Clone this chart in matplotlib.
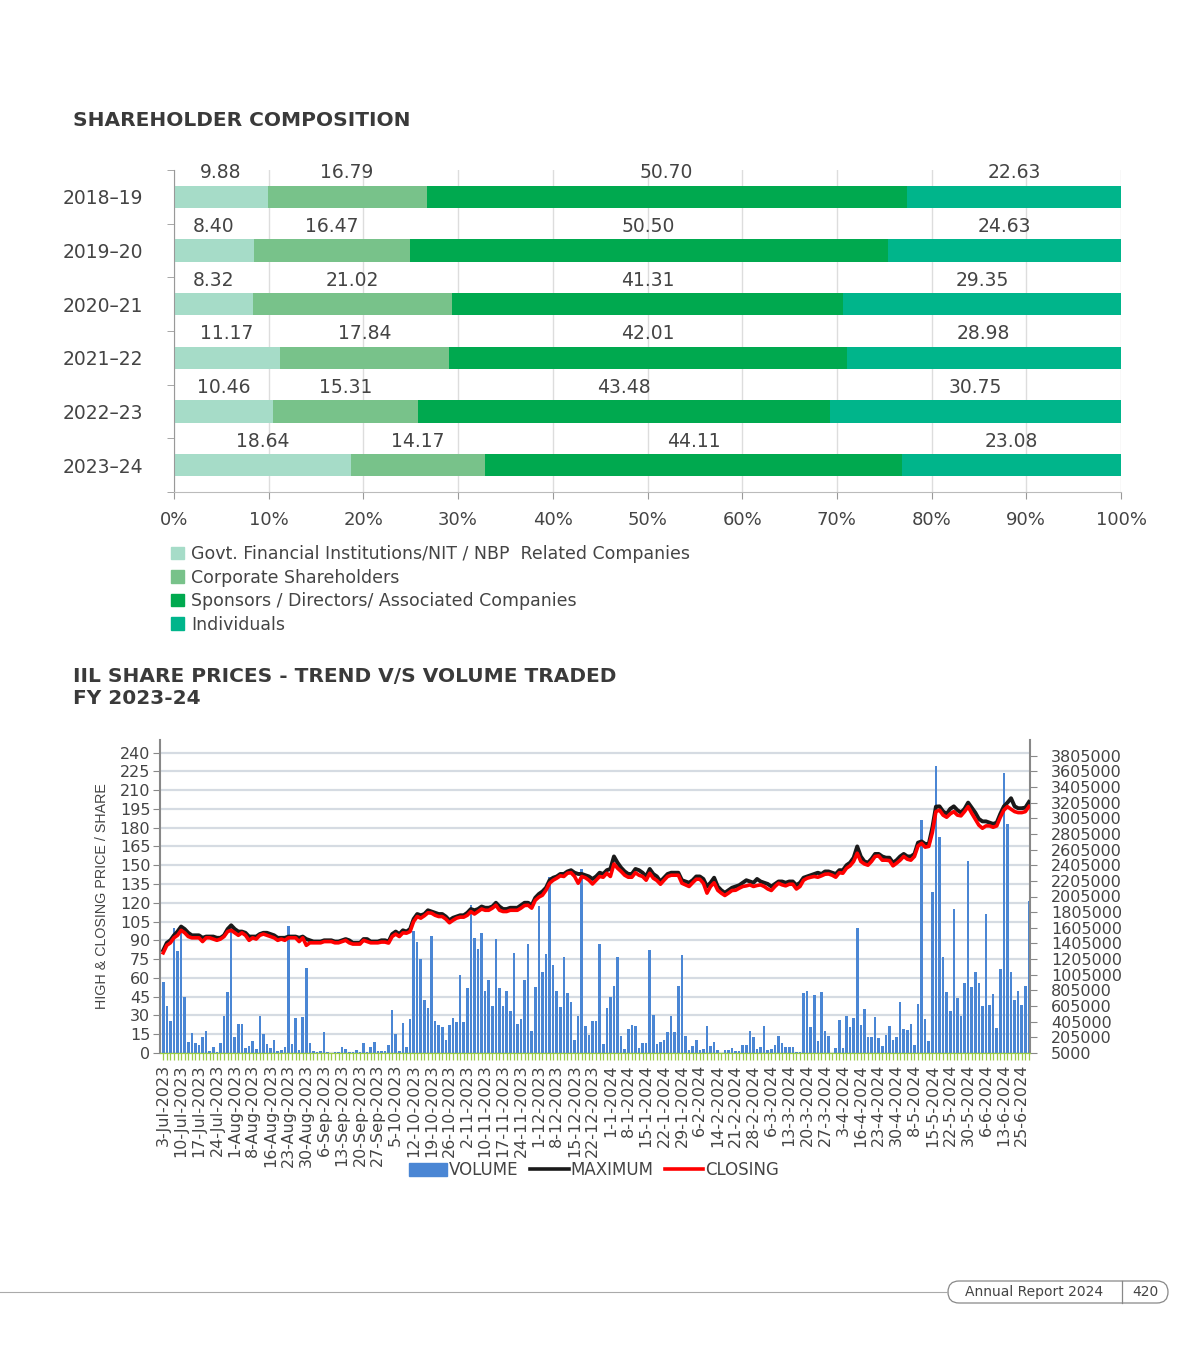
import numpy as np
import matplotlib.pyplot as plt
from matplotlib import font_manager
from matplotlib.patches import FancyBboxPatch, Patch
from matplotlib.lines import Line2D

plt.rcParams['font.family'] = ['DejaVu Sans']

# ---------------- shareholder composition ----------------
years = ["2018–19", "2019–20", "2020–21", "2021–22", "2022–23", "2023–24"]
govt = [9.88, 8.40, 8.32, 11.17, 10.46, 18.64]
corporate = [16.79, 16.47, 21.02, 17.84, 15.31, 14.17]
sponsors = [50.70, 50.50, 41.31, 42.01, 43.48, 44.11]
individuals = [22.63, 24.63, 29.35, 28.98, 30.75, 23.08]
groups = ["Govt. Financial Institutions/NIT / NBP  Related Companies",
          "Corporate Shareholders",
          "Sponsors / Directors/ Associated Companies",
          "Individuals"]
group_colors = ["#a6dcc8", "#78c28a", "#00a94f", "#00b58b"]

# ---------------- share prices FY 2023-24 ----------------
date_labels = ["3-Jul-2023", "10-Jul-2023", "17-Jul-2023", "24-Jul-2023", "1-Aug-2023",
               "8-Aug-2023", "16-Aug-2023", "23-Aug-2023", "30-Aug-2023", "6-Sep-2023",
               "13-Sep-2023", "20-Sep-2023", "27-Sep-2023", "5-10-2023", "12-10-2023",
               "19-10-2023", "26-10-2023", "2-11-2023", "10-11-2023", "17-11-2023",
               "24-11-2023", "1-12-2023", "8-12-2023", "15-12-2023", "22-12-2023",
               "1-1-2024", "8-1-2024", "15-1-2024", "22-1-2024", "29-1-2024",
               "6-2-2024", "14-2-2024", "21-2-2024", "28-2-2024", "6-3-2024",
               "13-3-2024", "20-3-2024", "27-3-2024", "3-4-2024", "16-4-2024",
               "23-4-2024", "30-4-2024", "8-5-2024", "15-5-2024", "22-5-2024",
               "30-5-2024", "6-6-2024", "13-6-2024", "25-6-2024"]

volume = [912000, 608000, 416000, 1600000, 1312000, 1626000, 720000, 144000, 256000, 136000,
          112000, 208000, 280000, 32000, 80000, 21000, 128000, 480000, 784000, 1632000,
          208000, 374000, 379000, 64000, 90000, 160000, 59000, 480000, 251000, 118000,
          64000, 176000, 32000, 43000, 80000, 1632000, 118000, 448000, 43000, 464000,
          1088000, 136000, 32000, 13000, 32000, 272000, 13000, 3000, 16000, 21000,
          80000, 59000, 16000, 13000, 48000, 21000, 136000, 21000, 77000, 144000,
          32000, 32000, 26000, 102000, 560000, 246000, 32000, 384000, 85000, 443000,
          1568000, 1424000, 1200000, 680000, 576000, 1504000, 416000, 362000, 331000, 176000,
          362000, 448000, 400000, 1000000, 400000, 832000, 1898000, 1472000, 1328000, 1536000,
          800000, 944000, 608000, 1456000, 832000, 608000, 800000, 544000, 1280000, 374000,
          438000, 944000, 1392000, 288000, 848000, 1888000, 1040000, 1264000, 2256000, 1128000,
          792000, 592000, 1232000, 768000, 656000, 176000, 480000, 2352000, 352000, 240000,
          416000, 416000, 1400000, 118000, 576000, 720000, 864000, 1232000, 224000, 59000,
          310000, 357000, 349000, 72000, 136000, 128000, 1323000, 496000, 118000, 141000,
          170000, 269000, 480000, 269000, 859000, 1256000, 221000, 43000, 90000, 176000,
          43000, 56000, 352000, 94000, 149000, 48000, 8000, 43000, 43000, 64000,
          32000, 32000, 102000, 112000, 288000, 213000, 56000, 80000, 352000, 38000,
          51000, 112000, 218000, 128000, 77000, 77000, 85000, 21000, 13000, 768000,
          792000, 336000, 752000, 154000, 779000, 285000, 224000, 8000, 72000, 426000,
          72000, 480000, 331000, 448000, 1600000, 362000, 566000, 208000, 208000, 464000,
          192000, 90000, 234000, 349000, 176000, 205000, 656000, 310000, 298000, 374000,
          112000, 634000, 2987000, 438000, 157000, 2064000, 3672000, 2768000, 1232000, 784000,
          536000, 1840000, 710000, 472000, 902000, 2464000, 848000, 1040000, 896000, 608000,
          1776000, 618000, 762000, 320000, 1082000, 3584000, 2928000, 1046000, 680000, 795000,
          624000, 856000, 1944000]

maximum = [82, 88, 90, 94, 97, 101, 99, 96, 94, 94,
           94, 92, 93, 93, 93, 92, 92, 94, 99, 102,
           99, 97, 97, 96, 93, 93, 93, 95, 96, 96,
           95, 94, 92, 92, 92, 93, 93, 93, 92, 93,
           91, 90, 89, 89, 89, 90, 90, 90, 89, 89,
           90, 91, 90, 88, 88, 88, 91, 91, 89, 89,
           89, 90, 90, 89, 95, 97, 95, 98, 97, 99,
           107, 111, 110, 111, 114, 113, 112, 111, 111, 109,
           106, 108, 109, 110, 110, 112, 115, 114, 115, 117,
           116, 116, 117, 120, 117, 115, 115, 116, 116, 116,
           118, 120, 120, 118, 124, 127, 129, 132, 138, 140,
           141, 143, 143, 145, 146, 144, 143, 143, 142, 141,
           139, 141, 144, 143, 146, 147, 157, 152, 148, 145,
           143, 143, 147, 146, 144, 141, 147, 143, 141, 137,
           140, 143, 144, 144, 144, 138, 137, 136, 138, 141,
           141, 139, 133, 136, 140, 133, 130, 128, 130, 132,
           133, 134, 136, 138, 137, 136, 139, 137, 136, 135,
           133, 135, 137, 137, 136, 137, 137, 134, 136, 140,
           141, 142, 143, 144, 143, 145, 145, 144, 143, 146,
           146, 150, 152, 156, 165, 157, 153, 152, 155, 159,
           159, 157, 156, 156, 152, 154, 157, 159, 157, 157,
           159, 168, 169, 167, 167, 180, 196.8, 197, 193, 191,
           195, 197, 194, 192, 195, 200, 196, 192, 187, 185,
           185, 184, 183, 184, 191, 197, 200, 203.5, 197, 195.5,
           195.5, 196, 200.5]

closing = [80, 86, 88, 92, 94, 98, 96, 93, 92, 92,
           92, 89, 92, 92, 91, 90, 91, 93, 97, 98,
           96, 94, 96, 94, 90, 92, 91, 94, 95, 94,
           93, 92, 90, 91, 90, 92, 92, 92, 89, 92,
           86, 88, 88, 88, 88, 89, 89, 89, 88, 88,
           89, 90, 88, 87, 87, 87, 90, 89, 88, 88,
           88, 88.6, 88.6, 87.8, 93, 95, 93, 96, 95.7, 97,
           105, 109, 107.7, 109.6, 112, 111.7, 110, 109, 109, 107,
           104, 106, 107.7, 108.5, 108.5, 110, 113, 111, 113, 115,
           114, 114, 115.7, 118, 114, 113, 113, 114, 114, 114,
           115.7, 117.8, 118, 115.7, 122, 124.5, 126, 130, 135.6, 138,
           139.6, 141.5, 141, 143.6, 144, 141, 135.6, 141, 140, 138,
           135, 138, 141, 140.4, 143.6, 141, 151, 147.6, 145, 142,
           140.4, 140.4, 144, 142, 141, 138, 143.6, 139.6, 137.8, 134.8,
           138, 141, 142, 142, 142, 135.6, 134.3, 133, 136, 138.8,
           138.8, 135.6, 127.7, 133, 136, 130, 127.7, 125.8, 127.7, 129.8,
           130, 131.6, 133, 133.5, 134.3, 133, 133.8, 134.3, 133, 131,
           129.8, 133, 135.6, 134.3, 133.5, 134.8, 134.8, 131, 133, 138,
           139.6, 140.4, 141, 140.4, 141.5, 142.8, 143, 142, 140.4, 144,
           143.6, 147.6, 149.5, 153, 159.6, 153, 151, 150, 153, 157,
           157.4, 154, 154, 153.7, 149.5, 151.6, 154, 157, 154.8, 154,
           157, 165.4, 167.5, 164.4, 165, 176, 192.8, 194, 190, 188.3,
           191, 192.8, 190, 189.4, 192.8, 196.8, 191.5, 186.7, 182, 179.5,
           181.4, 181.4, 180.3, 181.4, 188.3, 194, 196.8, 194.7, 192.8, 192,
           192, 192.8, 196.8]

price_ticks = list(range(0, 241, 15))
volume_ticks = list(range(5000, 3805001, 200000))

text_col = "#444444"
title_col = "#3a3a3a"

fig = plt.figure(figsize=(12, 13.5), dpi=100)

def fx(px):
    return px / 1200

def fy(px):
    return 1 - px / 1350

# ---------- titles ----------
fig.text(fx(73), fy(121), "SHAREHOLDER COMPOSITION", fontsize=14.5, weight="bold",
         color=title_col, va="center")
fig.text(fx(73), fy(676), "IIL SHARE PRICES - TREND V/S VOLUME TRADED", fontsize=14.5,
         weight="bold", color=title_col, va="center")
fig.text(fx(73), fy(699), "FY 2023-24", fontsize=14.5, weight="bold", color=title_col, va="center")

# ---------- stacked bars ----------
ax1 = fig.add_axes([fx(174), fy(492), 947 / 1200, 322 / 1350])
ypos = np.arange(len(years))
left = np.zeros(len(years))
for vals, col in zip([govt, corporate, sponsors, individuals], group_colors):
    vals = np.array(vals)
    ax1.barh(ypos, vals, left=left, height=0.41, color=col, zorder=2)
    for yi, v, l in zip(ypos, vals, left):
        ax1.text(l + v / 2, yi - 0.45, f"{v:.2f}", ha="center", va="center",
                 fontsize=13.5, color=text_col)
    left += vals

ax1.set_xlim(0, 100)
ax1.set_ylim(5.5, -0.5)
ax1.set_xticks(range(0, 101, 10), [f"{v}%" for v in range(0, 101, 10)])
ax1.set_yticks(ypos, years)
ax1.set_yticks(np.arange(-0.5, 6.0, 1.0), minor=True)
ax1.tick_params(axis="y", which="major", length=0, pad=22, labelsize=13.5, labelcolor=text_col)
ax1.tick_params(axis="y", which="minor", length=5, color="#999999")
ax1.tick_params(axis="x", length=5, color="#999999", pad=9, labelsize=13, labelcolor=text_col)
ax1.grid(axis="x", color="#dddddd", lw=1, zorder=0)
ax1.set_axisbelow(True)
for s in ["top", "right"]:
    ax1.spines[s].set_visible(False)
ax1.spines["left"].set_color("#999999")
ax1.spines["bottom"].set_color("#bbbbbb")

handles = [Patch(color=c) for c in group_colors]
fig.legend(handles, groups, loc="upper left", bbox_to_anchor=(fx(171), fy(545)),
           frameon=False, fontsize=12.5, handlelength=0.75, handleheight=0.75,
           handletextpad=0.4, labelspacing=0.32, borderaxespad=0, borderpad=0,
           labelcolor=text_col)

# ---------- price / volume chart ----------
ax = fig.add_axes([fx(160), fy(1053), 870 / 1200, 313 / 1350])
ax2 = ax.twinx()
x = np.arange(len(volume))

vol_per_unit = 16000
vol_base = 5000
ax.set_ylim(0, 250)
ax2.set_ylim(vol_base, vol_base + 250 * vol_per_unit)
ax.set_xlim(-0.9, len(volume) - 0.7)

ax2.hlines([vol_base + p * vol_per_unit for p in price_ticks], -1, len(volume),
           color="#d5dbe2", lw=1.6, zorder=0)
ax2.bar(x, volume, width=0.72, color="#4a86d4", zorder=2)

ax.set_zorder(ax2.get_zorder() + 1)
ax.patch.set_visible(False)
ax.plot(x, maximum, color="#1a1a1a", lw=2.8, zorder=3)
ax.plot(x, closing, color="#ff0000", lw=2.6, zorder=4)

ax.set_yticks(price_ticks)
ax.tick_params(axis="y", length=5, color="#888888", labelsize=11.5, labelcolor=text_col, pad=2)
ax2.set_yticks(volume_ticks)
ax2.tick_params(axis="y", length=5, color="#888888", labelsize=11.5, labelcolor=text_col, pad=10)
ax2.yaxis.set_major_formatter(plt.FuncFormatter(lambda v, p: f"{int(v)}"))

ax.set_xticks(x[::5], date_labels, rotation=90)
ax.set_xticks(x, minor=True)
ax.tick_params(axis="x", which="both", length=5, width=0.9, color="#9acd45",
               labelsize=11.5, labelcolor=text_col, pad=3)
for a in (ax, ax2):
    a.spines["top"].set_visible(False)
    a.spines["bottom"].set_color("#9acd45")
ax.spines["left"].set_color("#888888")
ax.spines["left"].set_linewidth(1.5)
ax2.spines["right"].set_color("#888888")
ax2.spines["right"].set_linewidth(1.5)
ax.spines["right"].set_visible(False)
ax2.spines["left"].set_visible(False)

names = {f.name for f in font_manager.fontManager.ttflist}
if "Liberation Sans Narrow" in names:
    ylab = dict(family="Liberation Sans Narrow", fontsize=12)
else:
    ylab = dict(family="Liberation Sans", fontsize=10.3)
ax.set_ylabel("HIGH & CLOSING PRICE / SHARE", color=text_col, labelpad=8, **ylab)

leg_handles = [Patch(color="#4a86d4"),
               Line2D([], [], color="#1a1a1a", lw=2.6),
               Line2D([], [], color="#ff0000", lw=2.6)]
fig.legend(leg_handles, ["VOLUME", "MAXIMUM", "CLOSING"], loc="center",
           bbox_to_anchor=(fx(594), fy(1170)), ncol=3, frameon=False, fontsize=12,
           handlelength=2.3, handleheight=0.8, handletextpad=0.1, columnspacing=0.7,
           labelcolor=text_col)

# ---------- footer ----------
fig.add_artist(Line2D([0, fx(948)], [fy(1292), fy(1292)], color="#aaaaaa", lw=0.8,
                      transform=fig.transFigure))
axf = fig.add_axes([fx(946), fy(1305), 224 / 1200, 26 / 1350])
axf.set_xlim(0, 224)
axf.set_ylim(0, 26)
axf.axis("off")
axf.add_patch(FancyBboxPatch((2, 2), 220, 22, boxstyle="round,pad=0,rounding_size=11",
                             fc="white", ec="#888888", lw=0.9))
axf.plot([176, 176], [2, 24], color="#888888", lw=0.9)
axf.text(88, 13, "Annual Report 2024", ha="center", va="center", fontsize=10, color=text_col)
axf.text(199, 13, "420", ha="center", va="center", fontsize=10, color=text_col)

fig.savefig("out.png", dpi=100, facecolor="white")
